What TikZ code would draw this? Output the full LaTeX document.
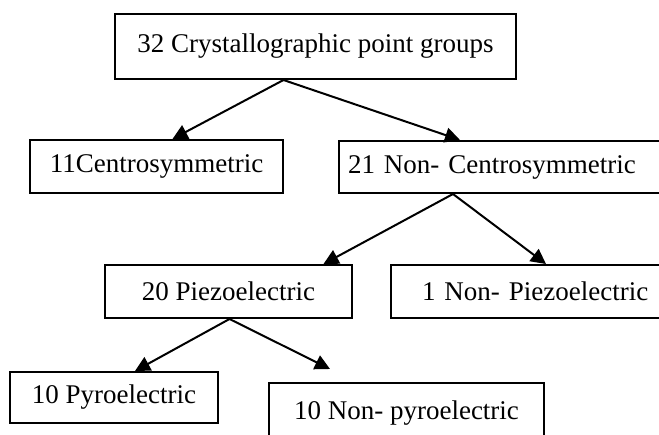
\documentclass[tikz,border=0pt]{standalone}
\usepackage{fontspec}
\setmainfont{Liberation Serif}
\usepackage{tikz}
\usetikzlibrary{arrows.meta,calc}

\begin{document}
\begin{tikzpicture}[x=1pt, y=-1pt,
    font={\fontsize{27}{32}\selectfont},
    grp/.style={draw, line width=2pt, inner sep=0pt, anchor=north west},
    lft/.style={align=left, inner xsep=#1},
    arr/.style={-{Triangle[length=15pt,width=15pt]}, line width=2pt}]
    % Frame
    \useasboundingbox (0,0) rectangle (659,434);
    \clip (0,0) rectangle (659,434);
    % Boxes
    \node[grp, minimum width=401pt, minimum height=65pt] (all) at (114,13)
      {32 Crystallographic point groups};
    \node[grp, minimum width=253pt, minimum height=53pt] (cen) at (29,139)
      {11Centrosymmetric};
    \node[grp, lft=9pt, text width=322pt, minimum height=52pt] (ncen) at (338,140)
      {21 Non- Centrosymmetric};
    \node[grp, minimum width=247pt, minimum height=53pt] (piezo) at (104,264)
      {20 Piezoelectric};
    \node[grp, lft=31pt, text width=238pt, minimum height=53pt] (npiezo) at (390,264)
      {1 Non- Piezoelectric};
    \node[grp, minimum width=208pt, minimum height=51pt] (pyro) at (9,371)
      {10 Pyroelectric};
    \node[grp, minimum width=275pt, minimum height=60pt] (npyro) at (268,382)
      {10 Non- pyroelectric};
    % Arrows
    \draw[arr] ([xshift=-32pt]all.south) -- ([xshift=16pt]cen.north);
    \draw[arr] ([xshift=-32pt]all.south) -- ([xshift=122pt]ncen.north west);
    \draw[arr] ([xshift=115pt]ncen.south west) -- ([xshift=95pt]piezo.north);
    \draw[arr] ([xshift=115pt]ncen.south west) -- ([xshift=156pt]npiezo.north west);
    \draw[arr] ([xshift=1pt]piezo.south) -- ([xshift=21pt]pyro.north);
    \draw[arr] ([xshift=1pt]piezo.south) -- ([xshift=62pt,yshift=13pt]npyro.north west);
\end{tikzpicture}
\end{document}
